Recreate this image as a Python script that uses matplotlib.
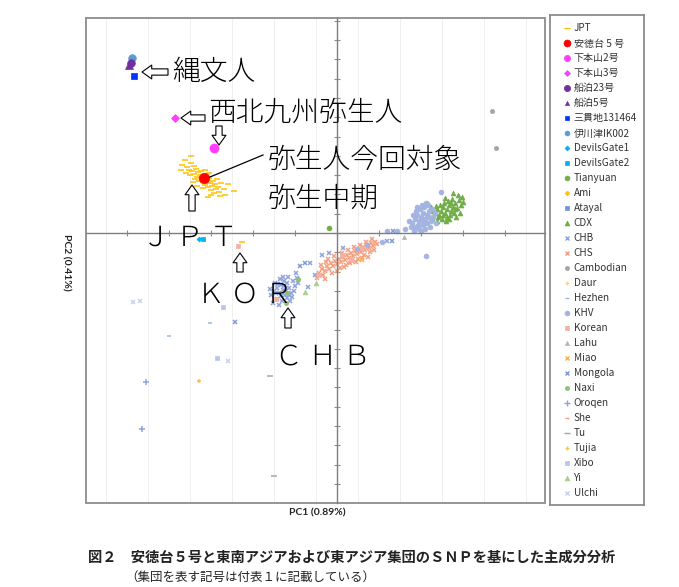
import matplotlib
matplotlib.use('Agg')
import matplotlib.pyplot as plt
from matplotlib.lines import Line2D
from matplotlib.patches import Rectangle
from matplotlib.ticker import MultipleLocator

plt.rcParams['font.family'] = ['Noto Sans CJK JP', 'DejaVu Sans']

# PC1 / PC2 scores, arbitrary units (origin = axis crossing)
jpt = [(-146, 77), (-152, 73), (-155, 68), (-150, 66), (-146, 70), (-143, 67), (-148, 63),
       (-145, 62), (-141, 64), (-139, 61), (-143, 59), (-147, 58), (-151, 60), (-137, 58),
       (-140, 56), (-136, 55), (-133, 57), (-130, 59), (-138, 52), (-134, 51), (-131, 53),
       (-128, 55), (-127, 50), (-132, 48), (-129, 46), (-125, 47), (-124, 52), (-122, 49),
       (-126, 43), (-121, 44), (-119, 46), (-123, 40), (-118, 41), (-117, 37), (-129, 36),
       (-109, 49), (-103, 42), (-112, 38), (-134, 45), (-142, 54), (-144, 51), (-136, 62),
       (-132, 63), (-156, 63), (-128, 60), (-120, 54), (-116, 50), (-113, 44), (-126, 38),
       (-140, 47), (-95, -9)]
andokudai5 = [(-133, 55)]
shimomotoyama2 = [(-123, 85)]
shimomotoyama3 = [(-162, 115)]
funadomari23 = [(-206, 170)]
funadomari5 = [(-208, 168)]
sanganji = [(-203, 157)]
ikawazu = [(-205, 175)]
devilsgate1 = [(-138, -6)]
devilsgate2 = [(-134, -6)]
tianyuan = [(-8, 5)]
ami = [(90, 30)]
atayal = []
cdx = [(95, 15), (98, 20), (100, 24), (102, 18), (104, 22), (106, 26), (108, 20), (110, 24),
       (112, 28), (114, 22), (116, 26), (118, 30), (120, 25), (122, 33), (124, 28), (110, 16),
       (105, 14), (100, 12), (113, 18), (117, 20), (119, 16), (107, 30), (103, 28), (111, 32),
       (115, 34), (121, 38), (125, 36), (99, 27), (96, 22), (109, 12), (123, 20), (118, 24),
       (106, 18), (112, 14), (101, 16), (94, 26), (126, 31), (114, 30), (108, 35), (116, 40)]
chb = [(-66, -62), (-63, -58), (-60, -55), (-58, -60), (-56, -52), (-54, -57), (-52, -62),
       (-50, -50), (-48, -55), (-46, -60), (-44, -48), (-42, -53), (-40, -45), (-60, -66),
       (-55, -68), (-50, -65), (-45, -64), (-62, -50), (-57, -46), (-53, -48), (-49, -44),
       (-47, -68), (-58, -72), (-64, -70), (-53, -53), (-51, -58), (-56, -63), (-61, -60),
       (-43, -58), (-39, -50), (-67, -56), (-48, -62), (-54, -44), (-59, -51), (-41, -40),
       (-22, -42), (-29, -54), (-27, -30), (-15, -22), (-8, -20), (6, -15), (50, -8)]
chs = [(-18, -40), (-15, -36), (-12, -38), (-10, -33), (-8, -36), (-6, -30), (-4, -33),
       (-2, -28), (0, -31), (2, -26), (4, -29), (6, -24), (8, -27), (10, -22), (12, -25),
       (14, -20), (16, -23), (18, -18), (20, -21), (22, -16), (24, -19), (26, -14), (28, -17),
       (30, -12), (32, -15), (34, -10), (36, -13), (38, -9), (40, -11), (-14, -42), (-5, -40),
       (3, -35), (9, -32), (15, -28), (21, -26), (27, -22), (33, -19), (-9, -26), (-3, -23),
       (5, -20), (11, -17), (17, -14), (23, -12), (29, -9), (35, -6), (0, -38), (7, -34),
       (13, -30), (19, -29), (25, -25), (-16, -32), (-11, -29), (31, -24), (37, -17),
       (-20, -45), (-12, -46)]
cambodian = [(155, 122), (159, 85)]
daur = []
hezhen = [(-168, -103), (-127, -90)]
khv = [(75, 10), (78, 14), (80, 18), (82, 12), (84, 16), (86, 20), (88, 14), (90, 18),
       (92, 22), (79, 22), (83, 24), (87, 26), (91, 28), (76, 18), (74, 6), (78, 6), (82, 4),
       (86, 8), (90, 10), (94, 12), (96, 16), (98, 20), (93, 6), (88, 4), (80, 26), (85, 28),
       (95, 24), (99, 10), (84, 2), (77, 2), (72, 12), (89, 30), (81, 8), (92, 16), (86, 12),
       (50, 2), (60, 2), (68, 4), (45, -9), (89, -23), (104, 41), (30, -12), (20, -16)]
korean = [(-99, -13), (-18, -42), (5, -22), (14, -26), (25, -15), (-61, -66)]
lahu = [(67, -4)]
miao = [(25, -27)]
mongola = [(-37, -33), (-32, -30), (55, -8), (56, 2), (-102, -89)]
naxi = [(-39, -46), (-50, -60), (-51, -70)]
oroqen = [(-191, -149), (-195, -196)]
she = [(12, -30)]
tu = [(-67, -143), (-63, -243)]
tujia = [(-138, -148)]
xibo = [(-114, -74), (-120, -125)]
yi = [(-32, -59), (-21, -50)]
ulchi = [(-204, -69), (-197, -68), (-109, -128)]

# label, data, marker, colour, size on plot, size in legend
groups = [
    ('JPT', jpt, '_', '#FFC000', 4, 4),
    ('安徳台 5 号', andokudai5, 'o', '#FF0000', 7.5, 5),
    ('下本山2号', shimomotoyama2, 'o', '#FF3CFF', 6.5, 4.5),
    ('下本山3号', shimomotoyama3, 'D', '#FF3CFF', 4, 3),
    ('船泊23号', funadomari23, 'o', '#7030A0', 5.5, 4.5),
    ('船泊5号', funadomari5, '^', '#7030A0', 5.5, 3),
    ('三貫地131464', sanganji, 's', '#0033FF', 4.5, 3.5),
    ('伊川津IK002', ikawazu, 'o', '#5B9BD5', 5.5, 3.5),
    ('DevilsGate1', devilsgate1, 'D', '#00B0F0', 2.5, 2.5),
    ('DevilsGate2', devilsgate2, 's', '#00B0F0', 3.5, 3.5),
    ('Tianyuan', tianyuan, 'o', '#70AD47', 3.5, 3.5),
    ('Ami', ami, 'P', '#FFC000', 3, 3),
    ('Atayal', atayal, 's', '#6F95D6', 3, 3),
    ('CDX', cdx, '^', '#70AD47', 3.5, 3.5),
    ('CHB', chb, 'x', '#8FA3DC', 3.5, 3.5),
    ('CHS', chs, 'x', '#F4A080', 3.5, 3.5),
    ('Cambodian', cambodian, 'o', '#A5A5A5', 3, 3),
    ('Daur', daur, '+', '#FFD966', 3.5, 3.5),
    ('Hezhen', hezhen, '_', '#9DB7E6', 3, 3),
    ('KHV', khv, 'o', '#A3B3E2', 3.5, 3.5),
    ('Korean', korean, 's', '#F4B0A0', 3.5, 3.5),
    ('Lahu', lahu, '^', '#B5B5B5', 3, 3),
    ('Miao', miao, 'x', '#FFB050', 3.5, 3.5),
    ('Mongola', mongola, 'x', '#7F9BD5', 3.5, 3.5),
    ('Naxi', naxi, 'o', '#8FC07A', 3, 3),
    ('Oroqen', oroqen, '+', '#8FA3DC', 4, 4),
    ('She', she, '_', '#F4A080', 3, 3),
    ('Tu', tu, '_', '#A5A5A5', 4, 4),
    ('Tujia', tujia, '+', '#FFC04D', 3.5, 3.5),
    ('Xibo', xibo, 's', '#B4C7E7', 3.5, 3.5),
    ('Yi', yi, '^', '#A9D18E', 3.5, 3.5),
    ('Ulchi', ulchi, 'x', '#C5D3EE', 3.5, 3.5),
]

# annotation text: (text, pc1, pc2)
notes = [('縄文人', -165, 161), ('西北九州弥生人', -129, 120), ('弥生人今回対象', -69, 73),
         ('弥生中期', -69, 34), ('Ｊ Ｐ Ｔ', -195, -5), ('Ｋ Ｏ Ｒ', -140, -62),
         ('Ｃ Ｈ Ｂ', -62, -124)]
# hollow arrows: (tail, head)
arrows = [((-169, 161), (-195, 161)), ((-132, 115), (-156, 115)), ((-118, 107), (-118, 88)),
          ((-145, 22), (-145, 48)), ((-97, -39), (-97, -20)), ((-49, -95), (-49, -75))]

fig = plt.figure(figsize=(6.79, 5.87), dpi=100)
ax = fig.add_axes([86 / 679, 84 / 587, 459 / 679, 485 / 587])
ax.set_xlim(-251, 208)
ax.set_ylim(-270, 215)

ax.xaxis.set_major_locator(MultipleLocator(42))
ax.yaxis.set_major_locator(MultipleLocator(19.3))
ax.xaxis.set_minor_locator(MultipleLocator(21))
ax.yaxis.set_minor_locator(MultipleLocator(19.3))
ax.grid(which='minor', color='#EDEDED', lw=0.6)
ax.set_axisbelow(True)
ax.spines['left'].set_position(('data', 0))
ax.spines['bottom'].set_position(('data', 0))
ax.spines['top'].set_visible(False)
ax.spines['right'].set_visible(False)
for s in ['left', 'bottom']:
    ax.spines[s].set_color('#7f7f7f')
    ax.spines[s].set_linewidth(1.0)
ax.tick_params(which='major', direction='inout', length=4, width=0.8, color='#8c8c8c',
               labelbottom=False, labelleft=False)
ax.tick_params(which='minor', length=0)
ax.add_patch(Rectangle((0, 0), 1, 1, transform=ax.transAxes, fill=False,
                       ec='#8c8c8c', lw=1.3, clip_on=False))

# modern groups first, then JPT, then the ancient individuals on top
order = list(range(11, len(groups))) + [0] + list(range(10, 0, -1))
for i in order:
    label, pts, mk, col, ms, lms = groups[i]
    if not pts:
        continue
    xs = [p[0] for p in pts]
    ys = [p[1] for p in pts]
    ax.plot(xs, ys, ls='none', marker=mk, color=col, ms=ms,
            mew=1.1 if mk in 'x+_' else 0.5, zorder=3 if i < 11 else 2)

for txt, x, y in notes:
    ax.text(x, y, txt, fontsize=20, fontweight='light', ha='left', va='center',
            color='black', zorder=5)
for tail, head in arrows:
    ax.annotate('', xy=head, xytext=tail,
                arrowprops=dict(arrowstyle='simple,head_length=0.7,head_width=1.0,tail_width=0.45',
                                fc='white', ec='black', lw=0.8, shrinkA=0, shrinkB=0,
                                mutation_scale=10), zorder=5)
ax.plot([-127, -74], [56, 78], color='black', lw=0.9, zorder=4)

fig.text(317 / 679, 1 - 513 / 587, 'PC1 (0.89%)', family=['Lato', 'DejaVu Sans'],
         fontweight='bold', fontsize=7.5, ha='center', va='center', color='#222222')
fig.text(66 / 679, 1 - 262 / 587, 'PC2 (0.41%)', family=['Lato', 'DejaVu Sans'],
         fontweight='bold', fontsize=7.5, ha='center', va='center', rotation=270,
         color='#222222')

# legend box
lax = fig.add_axes([550 / 679, 82 / 587, 94 / 679, 490 / 587])
lax.set_xticks([])
lax.set_yticks([])
for s in lax.spines.values():
    s.set_color('#8c8c8c')
    s.set_linewidth(1.3)
handles = [Line2D([], [], ls='none', marker=g[2], color=g[3], ms=g[5],
                  mew=1.0 if g[2] in 'x+_' else 0.5) for g in groups]
lax.legend(handles, [g[0] for g in groups], loc='upper left', bbox_to_anchor=(0.08, 0.995),
           frameon=False, fontsize=7.2, handlelength=0.6, handletextpad=0.4,
           labelspacing=0.5, borderaxespad=0.2, labelcolor='#333333')

fig.text(88 / 679, 1 - 558 / 587,
         '図２　安徳台５号と東南アジアおよび東アジア集団のＳＮＰを基にした主成分分析',
         fontsize=10.3, fontweight='bold', ha='left', va='center', color='#222222')
fig.text(125 / 679, 1 - 577 / 587, '（集団を表す記号は付表１に記載している）',
         fontsize=9, ha='left', va='center', color='#222222')

fig.savefig('out.png', dpi=100)
